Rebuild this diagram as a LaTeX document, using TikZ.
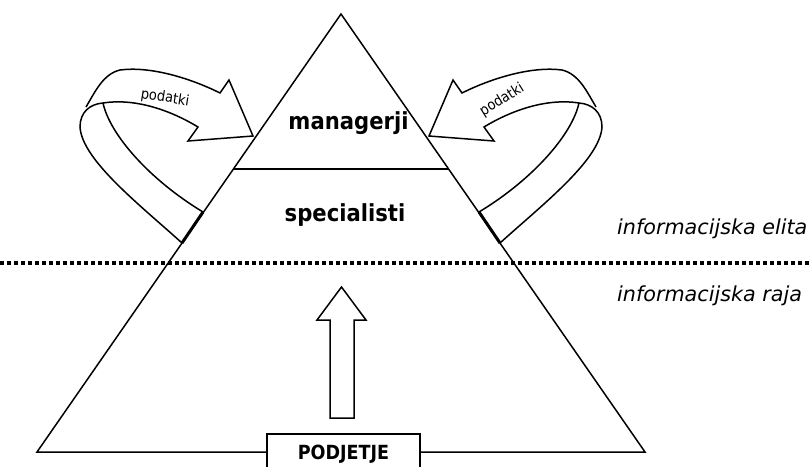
\documentclass[tikz,border=0pt]{standalone}
\usepackage{fontspec}
\setmainfont{DejaVu Sans}
\newfontfamily\narrowsans[FakeStretch=0.9]{DejaVu Sans}
\usetikzlibrary{calc}

% One looping "podatki" ribbon: arrow band, outer loop, inner fold and the
% thick foot where it rests on the pyramid's side.
\newcommand\datalooppath{%
  \draw[outline] (103,103) .. controls (135,98) and (170,110) .. (198,127)
    -- (188,141) -- (253,136) -- (229,80) -- (220,93)
    .. controls (190,78) and (150,66) .. (120,70)
    .. controls (103,74) and (95,92) .. (86,107);
  \draw[outline] (103,103) .. controls (90,104) and (80,112) .. (80,127)
    .. controls (82,160) and (140,205) .. (182,243);
  \draw[outline] (103,103) .. controls (110,135) and (150,180) .. (203,212);
  \draw[line width=3pt] (203,212) -- (182,243);
}

\begin{document}
\begin{tikzpicture}[x=1pt,y=-1pt,
  outline/.style={draw=black,line width=1.5pt,line join=miter},
  level/.style={font=\narrowsans\fontsize{23.5}{26}\selectfont\bfseries,inner sep=0pt,anchor=base},
  side/.style={font=\fontsize{20.7}{24}\selectfont\itshape,inner sep=0pt,anchor=base west},
  flow/.style={font=\narrowsans\fontsize{14.5}{17}\selectfont,inner sep=0pt},
  company/.style={draw,line width=1.5pt,fill=white,font=\narrowsans\fontsize{19.5}{22}\selectfont\bfseries,
    minimum width=153pt,text height=14pt,text depth=0pt,inner ysep=11pt,anchor=base},
  boundary/.style={line width=3.5pt,dash pattern=on 4pt off 3pt}
]
\useasboundingbox (0,0) rectangle (811,466);

% pyramid
\coordinate (apex) at (341,14);
\coordinate (bl) at (37,452);
\coordinate (br) at (645,452);
\node[company] (podjetje) at (343.5,459) {PODJETJE};
\draw[outline] (podjetje.west |- bl) -- (bl) -- (apex) -- (br) -- (podjetje.east |- br);
\draw[outline] ($(apex)!0.3539!(bl)$) -- ($(apex)!0.3539!(br)$);

% border between the two groups
\coordinate (dl) at (0,263);
\coordinate (dr) at (811,263);
\draw[boundary] (dl) -- (dr);

% upward arrow from the company
\draw[outline] (341.5,287) -- (366,320) -- (354,320) -- (354,418)
  -- (330,418) -- (330,320) -- (317,320) -- cycle;

% data loops on both sides
\datalooppath
\begin{scope}[shift={(682,0)},xscale=-1]
  \datalooppath
\end{scope}

% labels
\node[level] (managers) at (348.5,129) {managerji};
\node[level] (specialists) at (345,221) {specialisti};
\node[side] (elite) at (617,234) {informacijska elita};
\node[side] (masses) at (617,301) {informacijska raja};
\node[flow,rotate=-9] (dataL) at (165,98) {podatki};
\node[flow,rotate=32] (dataR) at (502,100) {podatki};
\end{tikzpicture}
\end{document}
